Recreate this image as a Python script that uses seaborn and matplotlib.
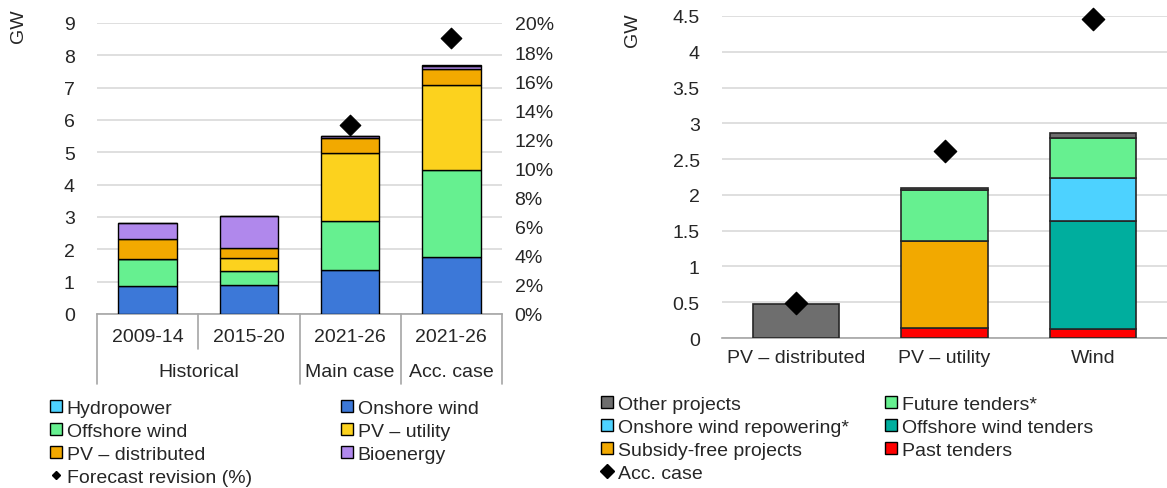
import numpy as np
import pandas as pd
import seaborn as sns
import matplotlib.pyplot as plt
from matplotlib.patches import Patch
from matplotlib.lines import Line2D
import matplotlib.transforms as mtransforms

# Left panel data (GW)
periods = ["2009-14", "2015-20", "2021-26", "2021-26"]
groups = ["Historical", "Historical", "Main case", "Acc. case"]
onshore_wind = [0.87, 0.91, 1.37, 1.75]
offshore_wind = [0.83, 0.41, 1.50, 2.70]
pv_utility = [0.00, 0.41, 2.10, 2.62]
pv_distributed = [0.62, 0.32, 0.47, 0.50]
bioenergy = [0.48, 0.99, 0.05, 0.11]
hydropower = [0.00, 0.00, 0.03, 0.02]
forecast_revision = [np.nan, np.nan, 13.0, 19.0]

# Right panel data (GW)
techs = ["PV \u2013 distributed", "PV \u2013 utility", "Wind"]
past_tenders = [0.00, 0.14, 0.13]
subsidy_free = [0.00, 1.21, 0.00]
offshore_tenders = [0.00, 0.00, 1.50]
onshore_repowering = [0.00, 0.00, 0.61]
future_tenders = [0.00, 0.72, 0.55]
other_projects = [0.48, 0.03, 0.07]
acc_case = [0.49, 2.61, 4.46]

sns.set_style("white")
plt.rcParams['font.family'] = ['Liberation Sans', 'DejaVu Sans']
plt.rcParams['font.size'] = 14

grid_col = '#d9d9d9'
axis_col = '#a6a6a6'
fs = 14

fig = plt.figure(figsize=(11.67, 4.89), dpi=100)
W, H = 1167, 489
axL = fig.add_axes([97 / W, 1 - 315 / H, (502 - 97) / W, (315 - 24) / H])
axR = fig.add_axes([722 / W, 1 - 339 / H, (1167 - 722) / W, (339 - 17) / H])

keys = [p + "|" + g for p, g in zip(periods, groups)]

# ---- left stacked bars
left_layers = [
    ("Onshore wind", onshore_wind, "#3c78d8"),
    ("Offshore wind", offshore_wind, "#66f090"),
    ("PV \u2013 utility", pv_utility, "#fcd21e"),
    ("PV \u2013 distributed", pv_distributed, "#f2a900"),
    ("Bioenergy", bioenergy, "#b088ec"),
    ("Hydropower", hydropower, "#4dd2ff"),
]
bottom = np.zeros(len(keys))
for name, vals, col in left_layers:
    sns.barplot(x=keys, y=vals, order=keys, bottom=bottom, color=col, saturation=1,
                width=0.58, edgecolor='black', linewidth=1, errorbar=None, ax=axL, zorder=3)
    bottom = bottom + np.array(vals)

axL.set_ylim(0, 9)
axL.set_xlim(-0.5, 3.5)
axL.set_yticks(range(0, 10))
axL.yaxis.grid(True, color=grid_col, linewidth=1.2, zorder=0)
axL.set_axisbelow(True)
for s in ['left', 'right', 'top']:
    axL.spines[s].set_visible(False)
axL.spines['bottom'].set_color(axis_col)
axL.spines['bottom'].set_linewidth(1.2)
axL.set_xticks([])
axL.set_xlabel("")
axL.set_ylabel("")
axL.tick_params(axis='y', length=0, pad=16, labelsize=fs)

# multi-level category labels
trL = mtransforms.blended_transform_factory(axL.transData, axL.transAxes)
for i, p in enumerate(periods):
    axL.text(i, -0.077, p, transform=trL, ha='center', va='center', fontsize=fs)
grp_names = []
grp_pos = []
for i, g in enumerate(groups):
    if g in grp_names:
        grp_pos[grp_names.index(g)].append(i)
    else:
        grp_names.append(g)
        grp_pos.append([i])
for g, pos in zip(grp_names, grp_pos):
    axL.text(np.mean(pos), -0.197, g, transform=trL, ha='center', va='center', fontsize=fs)
    axL.plot([pos[0] - 0.5, pos[0] - 0.5], [0, -0.24], transform=trL, color=axis_col,
             lw=1.2, clip_on=False)
    for k in pos[1:]:
        axL.plot([k - 0.5, k - 0.5], [0, -0.12], transform=trL, color=axis_col,
                 lw=1.2, clip_on=False)
axL.plot([len(keys) - 0.5] * 2, [0, -0.24], transform=trL, color=axis_col, lw=1.2, clip_on=False)

axL2 = axL.twinx()
sns.scatterplot(x=keys, y=forecast_revision, marker='D', color='black', s=110,
                edgecolor='black', ax=axL2, zorder=5, clip_on=False)
axL2.set_ylim(0, 20)
axL2.set_yticks(range(0, 21, 2))
axL2.set_yticklabels([f"{v}%" for v in range(0, 21, 2)])
axL2.tick_params(axis='y', length=0, pad=9, labelsize=fs)
for s in ['left', 'right', 'top', 'bottom']:
    axL2.spines[s].set_visible(False)
axL2.set_ylabel("")
axL2.set_xlim(-0.5, 3.5)

fig.text(18 / W, 1 - 26 / H, "GW", rotation=90, ha='center', va='center', fontsize=fs)

# ---- right stacked bars
right_layers = [
    ("Past tenders", past_tenders, "#ff0000"),
    ("Subsidy-free projects", subsidy_free, "#f2a900"),
    ("Offshore wind tenders", offshore_tenders, "#00ae9e"),
    ("Onshore wind repowering*", onshore_repowering, "#4dd2ff"),
    ("Future tenders*", future_tenders, "#66f090"),
    ("Other projects", other_projects, "#6e6e6e"),
]
bottom = np.zeros(len(techs))
for name, vals, col in right_layers:
    sns.barplot(x=techs, y=vals, order=techs, bottom=bottom, color=col, saturation=1,
                width=0.58, edgecolor='#262626', linewidth=1.2, errorbar=None, ax=axR, zorder=3)
    bottom = bottom + np.array(vals)
sns.scatterplot(x=techs, y=acc_case, marker='D', color='black', s=130,
                edgecolor='black', ax=axR, zorder=5, clip_on=False)

axR.set_ylim(0, 4.5)
axR.set_xlim(-0.5, 2.5)
axR.set_yticks(np.arange(0, 4.51, 0.5))
axR.set_yticklabels(["0", "0.5", "1", "1.5", "2", "2.5", "3", "3.5", "4", "4.5"])
axR.yaxis.grid(True, color=grid_col, linewidth=1.2, zorder=0)
axR.set_axisbelow(True)
for s in ['left', 'right', 'top']:
    axR.spines[s].set_visible(False)
axR.spines['bottom'].set_color(axis_col)
axR.spines['bottom'].set_linewidth(1.2)
axR.set_xticks(range(len(techs)))
axR.set_xticklabels(techs)
axR.set_xticks(np.arange(-0.5, len(techs), 1.0), minor=True)
axR.tick_params(axis='x', which='major', length=0, pad=8, labelsize=fs)
axR.tick_params(axis='x', which='minor', length=6, color=axis_col, width=1.2, direction='out')
axR.tick_params(axis='y', length=0, pad=16, labelsize=fs)
axR.set_xlabel("")
axR.set_ylabel("")
fig.text(632 / W, 1 - 30 / H, "GW", rotation=90, ha='center', va='center', fontsize=fs)

# ---- legends
legL = [
    Patch(facecolor="#4dd2ff", edgecolor='black', label="Hydropower"),
    Patch(facecolor="#66f090", edgecolor='black', label="Offshore wind"),
    Patch(facecolor="#f2a900", edgecolor='black', label="PV \u2013 distributed"),
    Line2D([], [], marker='D', color='black', linestyle='none', markersize=4,
           label="Forecast revision (%)"),
    Patch(facecolor="#3c78d8", edgecolor='black', label="Onshore wind"),
    Patch(facecolor="#fcd21e", edgecolor='black', label="PV \u2013 utility"),
    Patch(facecolor="#b088ec", edgecolor='black', label="Bioenergy"),
]
fig.legend(handles=legL, ncol=2, loc='upper left', bbox_to_anchor=(50 / W, 1 - 401 / H),
           frameon=False, fontsize=fs, handlelength=0.6, handleheight=0.6,
           handletextpad=0.25, labelspacing=0.3, columnspacing=4.6, borderaxespad=0,
           borderpad=0)

legR = [
    Patch(facecolor="#6e6e6e", edgecolor='black', label="Other projects"),
    Patch(facecolor="#4dd2ff", edgecolor='black', label="Onshore wind repowering*"),
    Patch(facecolor="#f2a900", edgecolor='black', label="Subsidy-free projects"),
    Line2D([], [], marker='D', color='black', linestyle='none', markersize=7,
           label="Acc. case"),
    Patch(facecolor="#66f090", edgecolor='black', label="Future tenders*"),
    Patch(facecolor="#00ae9e", edgecolor='black', label="Offshore wind tenders"),
    Patch(facecolor="#ff0000", edgecolor='black', label="Past tenders"),
]
fig.legend(handles=legR, ncol=2, loc='upper left', bbox_to_anchor=(601 / W, 1 - 397 / H),
           frameon=False, fontsize=fs, handlelength=0.6, handleheight=0.6,
           handletextpad=0.25, labelspacing=0.3, columnspacing=1.9, borderaxespad=0,
           borderpad=0)

fig.savefig("out.png", dpi=100)
